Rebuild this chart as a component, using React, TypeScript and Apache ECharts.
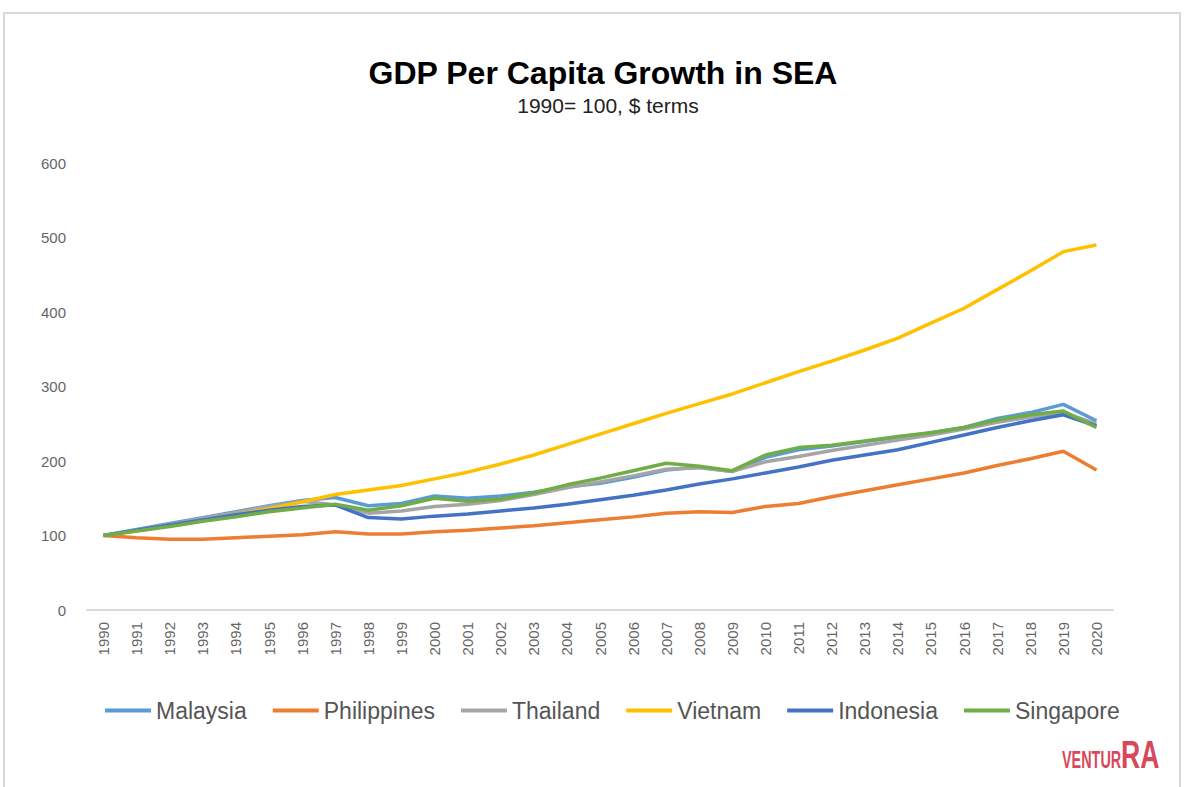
import React, { useEffect, useRef } from "react";
import * as echarts from "echarts";

const years = [
  "1990", "1991", "1992", "1993", "1994", "1995", "1996", "1997", "1998", "1999",
  "2000", "2001", "2002", "2003", "2004", "2005", "2006", "2007", "2008", "2009",
  "2010", "2011", "2012", "2013", "2014", "2015", "2016", "2017", "2018", "2019", "2020",
];

const malaysia = [100, 108, 116, 124, 132, 140, 147, 151, 140, 143, 153, 150, 153, 158, 165, 170, 178, 188, 192, 186, 205, 215, 220, 226, 232, 238, 245, 257, 265, 276, 254];
const philippines = [100, 97, 95, 95, 97, 99, 101, 105, 102, 102, 105, 107, 110, 113, 117, 121, 125, 130, 132, 131, 139, 143, 152, 160, 168, 176, 184, 194, 203, 213, 188];
const thailand = [100, 107, 115, 123, 131, 139, 146, 141, 130, 133, 139, 142, 147, 155, 164, 172, 180, 189, 191, 186, 199, 206, 214, 221, 228, 235, 243, 252, 259, 265, 250];
const vietnam = [100, 106, 113, 120, 128, 136, 145, 155, 161, 167, 176, 185, 196, 208, 222, 236, 250, 264, 277, 290, 305, 320, 334, 349, 365, 385, 405, 430, 455, 481, 490];
const indonesia = [100, 107, 114, 121, 128, 134, 139, 141, 124, 122, 126, 129, 133, 137, 142, 148, 154, 161, 169, 176, 184, 192, 201, 208, 215, 225, 235, 245, 254, 262, 247];
const singapore = [100, 106, 112, 119, 125, 132, 137, 142, 134, 140, 150, 146, 149, 157, 168, 177, 187, 197, 193, 187, 208, 218, 221, 227, 233, 238, 245, 255, 262, 267, 245];

const seriesNames = ["Malaysia", "Philippines", "Thailand", "Vietnam", "Indonesia", "Singapore"];
const seriesData = [malaysia, philippines, thailand, vietnam, indonesia, singapore];
const seriesColors = ["#5B9BD5", "#ED7D31", "#A5A5A5", "#FFC000", "#4472C4", "#70AD47"];

export default function App() {
  const ref = useRef<HTMLDivElement>(null);
  useEffect(() => {
    if (!ref.current) return;
    const chart = echarts.init(ref.current, null, { renderer: "svg" });
    chart.setOption({
      animation: false,
      backgroundColor: "#ffffff",
      title: [
        {
          text: "GDP Per Capita Growth in SEA",
          left: 598,
          top: 52,
          textAlign: "center",
          textStyle: { fontFamily: "Liberation Sans, Arial", fontWeight: "bold", fontSize: 32, color: "#000" },
        },
        {
          text: "1990= 100, $ terms",
          left: 603,
          top: 90,
          textAlign: "center",
          textStyle: { fontFamily: "Liberation Sans, Arial", fontWeight: "normal", fontSize: 21, color: "#222" },
        },
      ],
      legend: {
        data: seriesNames,
        left: 100,
        top: 694,
        icon: "rect",
        itemWidth: 46,
        itemHeight: 4,
        itemGap: 26,
        itemStyle: { borderWidth: 0 },
        textStyle: { fontFamily: "Liberation Sans, Arial", fontSize: 23, color: "#555" },
      },
      grid: { left: 87, right: 74, top: 163, bottom: 177, containLabel: false },
      xAxis: {
        type: "category",
        data: years,
        boundaryGap: true,
        axisLine: { show: true, lineStyle: { color: "#d9d9d9", width: 2 } },
        axisTick: { show: false },
        axisLabel: { rotate: 90, margin: 12, fontSize: 15, color: "#666", fontFamily: "Liberation Sans, Arial" },
      },
      yAxis: {
        type: "value",
        min: 0,
        max: 600,
        interval: 100,
        axisLine: { show: false },
        axisTick: { show: false },
        splitLine: { show: false },
        axisLabel: { margin: 21, fontSize: 15, color: "#666", fontFamily: "Liberation Sans, Arial" },
      },
      series: seriesNames.map((name, i) => ({
        name,
        type: "line",
        data: seriesData[i],
        symbol: "none",
        showSymbol: false,
        lineStyle: { color: seriesColors[i], width: 3.5 },
        itemStyle: { color: seriesColors[i] },
      })),
      graphic: [
        {
          type: "rect",
          shape: { x: 4, y: 13, width: 1176, height: 800 },
          style: { fill: "none", stroke: "#d8d8d8", lineWidth: 2 },
          silent: true,
        },
        {
          type: "text",
          x: 1062,
          y: 772,
          scaleX: 0.6,
          style: {
            text: "VENTUR",
            fontFamily: "Liberation Sans, Arial",
            fontWeight: "bold",
            fontSize: 24,
            fill: "#d8485a",
            textVerticalAlign: "bottom",
          },
        },
        {
          type: "text",
          x: 1121,
          y: 774,
          scaleX: 0.7,
          style: {
            text: "RA",
            fontFamily: "Liberation Sans, Arial",
            fontWeight: "bold",
            fontSize: 38,
            fill: "#d8485a",
            textVerticalAlign: "bottom",
          },
        },
      ],
    });
    return () => chart.dispose();
  }, []);
  return (
    <div
      ref={ref}
      style={{ position: "fixed", left: 0, top: 0, width: 1187, height: 787 }}
    />
  );
}
